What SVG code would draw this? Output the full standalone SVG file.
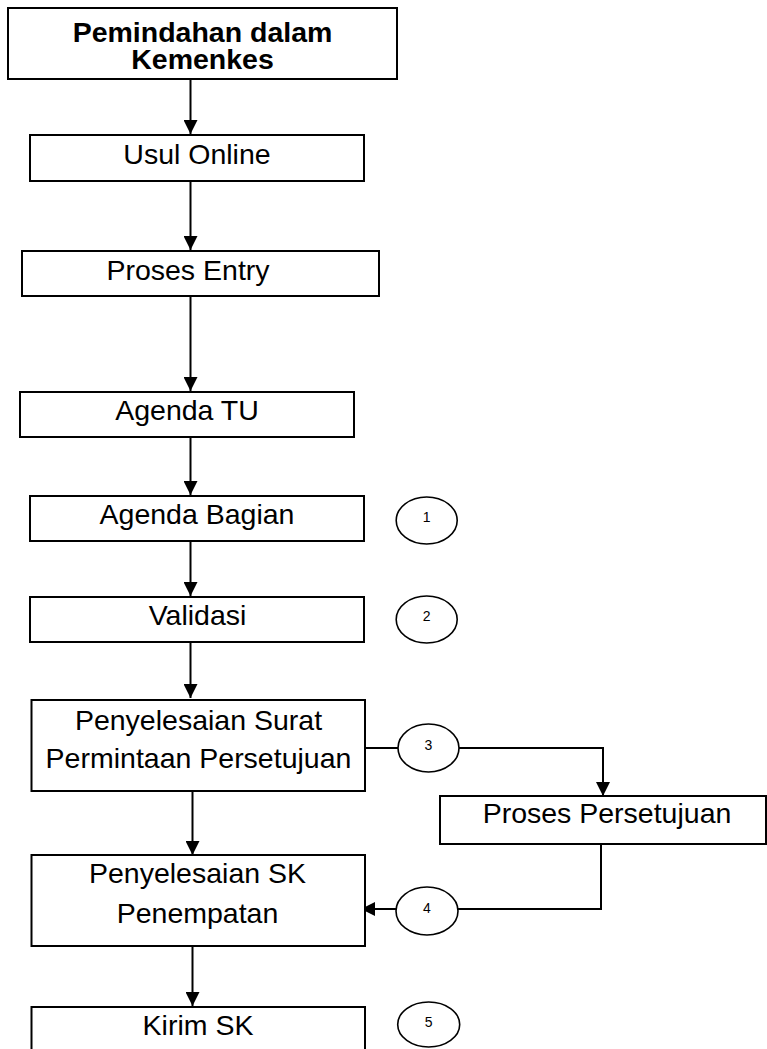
<svg xmlns="http://www.w3.org/2000/svg" width="767" height="1049" viewBox="0 0 767 1049">
<style>
.box{fill:#fff;stroke:#000;stroke-width:2}
.oval{fill:#fff;stroke:#000;stroke-width:1.6}
.t{font-family:"Liberation Sans",Arial,sans-serif;font-size:28.5px;fill:#000;text-anchor:middle}
.b{font-weight:bold}
.n{font-family:"Liberation Sans",Arial,sans-serif;font-size:14px;fill:#000;text-anchor:middle}
.c{fill:none;stroke:#000;stroke-width:2}
</style>
<defs>
<marker id="ah" viewBox="0 0 14 14" refX="14" refY="7" markerWidth="14" markerHeight="14" markerUnits="userSpaceOnUse" orient="auto">
<path d="M0,0 L14,7 L0,14 Z" fill="#000"/>
</marker>
</defs>
<rect width="767" height="1049" fill="#fff"/>
<g id="connectors">
<path class="c" d="M190.5,79 V134" marker-end="url(#ah)"/>
<path class="c" d="M190.5,181 V250" marker-end="url(#ah)"/>
<path class="c" d="M190.5,296 V391" marker-end="url(#ah)"/>
<path class="c" d="M190.5,437 V495" marker-end="url(#ah)"/>
<path class="c" d="M190.5,541 V596" marker-end="url(#ah)"/>
<path class="c" d="M190.5,642 V698" marker-end="url(#ah)"/>
<path class="c" d="M192.5,786 V855" marker-end="url(#ah)"/>
<path class="c" d="M192.5,946 V1006" marker-end="url(#ah)"/>
<path class="c" d="M365,748 H398"/>
<path class="c" d="M459,748 H603 V796" marker-end="url(#ah)"/>
<path class="c" d="M601,845 V909 H458"/>
<path class="c" d="M396,909 H361" marker-end="url(#ah)"/>
</g>
<g id="n0"><rect class="box" x="8" y="8" width="389" height="71"/><text class="t b" x="202.5" y="41.5">Pemindahan dalam</text><text class="t b" x="202.5" y="68.5">Kemenkes</text></g>
<g id="n1"><rect class="box" x="30" y="135" width="334" height="46"/><text class="t" x="197" y="163.5">Usul Online</text></g>
<g id="n2"><rect class="box" x="22" y="251" width="357" height="45"/><text class="t" x="188" y="280">Proses Entry</text></g>
<g id="n3"><rect class="box" x="20" y="392" width="334" height="45"/><text class="t" x="187" y="420">Agenda TU</text></g>
<g id="n4"><rect class="box" x="30" y="496" width="334" height="45"/><text class="t" x="197" y="524">Agenda Bagian</text></g>
<g id="n5"><rect class="box" x="30" y="597" width="334" height="45"/><text class="t" x="197.5" y="625">Validasi</text></g>
<g id="n6"><rect class="box" x="31.5" y="700" width="333.5" height="91"/><text class="t" x="198.5" y="730">Penyelesaian Surat</text><text class="t" x="198.5" y="768">Permintaan Persetujuan</text></g>
<g id="n7"><rect class="box" x="440" y="796" width="326" height="48"/><text class="t" x="607" y="823">Proses Persetujuan</text></g>
<g id="n8"><rect class="box" x="31.5" y="855" width="333.5" height="91"/><text class="t" x="197.5" y="883">Penyelesaian SK</text><text class="t" x="197.5" y="923">Penempatan</text></g>
<g id="n9"><rect class="box" x="31.5" y="1007" width="333.5" height="60"/><text class="t" x="198" y="1035">Kirim SK</text></g>
<g id="e1"><ellipse class="oval" cx="426.7" cy="520.5" rx="30.5" ry="23.5"/><text class="n" x="426.7" y="522">1</text></g>
<g id="e2"><ellipse class="oval" cx="426.7" cy="619.5" rx="30.5" ry="23.5"/><text class="n" x="426.7" y="621">2</text></g>
<g id="e3"><ellipse class="oval" cx="428.5" cy="748" rx="30.5" ry="24"/><text class="n" x="428.5" y="750">3</text></g>
<g id="e4"><ellipse class="oval" cx="427" cy="911" rx="31" ry="24"/><text class="n" x="427" y="913">4</text></g>
<g id="e5"><ellipse class="oval" cx="428.7" cy="1024.5" rx="31" ry="22.5"/><text class="n" x="428.7" y="1027">5</text></g>
</svg>
